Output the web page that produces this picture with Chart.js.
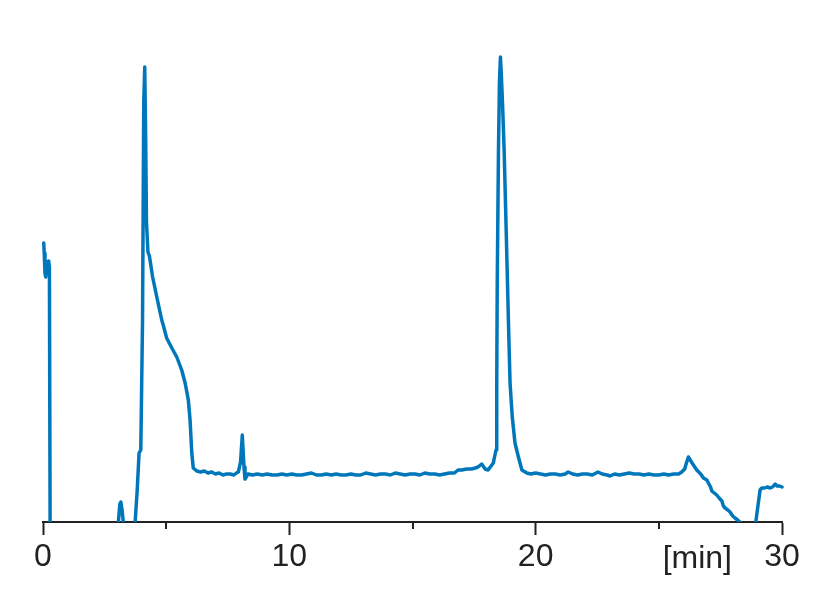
<!DOCTYPE html>
<html>
<head>
<meta charset="utf-8">
<script src="https://cdn.jsdelivr.net/npm/chart.js@4.4.1/dist/chart.umd.min.js"></script>
<style>
  html, body { margin: 0; padding: 0; background: #fff; }
  #wrap { width: 827px; height: 591px; }
</style>
</head>
<body>
<div id="wrap"><canvas id="chart" width="827" height="591"></canvas></div>
<script>
// Chromatogram trace (time in min, signal in arbitrary units)
const times = [
  0.03, 0.05, 0.08, 0.11, 0.16, 0.23, 0.26, 0.29, 0.5, 3.0,
  3.06, 3.12, 3.16, 3.21, 3.26, 3.35, 3.65, 3.74, 3.82, 3.90,
  3.97, 4.04, 4.09, 4.13, 4.17, 4.20, 4.26, 4.32, 4.45, 4.62,
  4.82, 4.88, 5.02, 5.23, 5.43, 5.63, 5.77, 5.90, 5.97, 6.04,
  6.10, 6.24, 6.4, 6.55, 6.7, 6.85, 7.0, 7.15, 7.3, 7.45,
  7.6, 7.75, 7.85, 7.93, 8.02, 8.09, 8.16, 8.20, 8.32, 8.5,
  8.7, 8.9, 9.1, 9.3, 9.5, 9.7, 9.9, 10.1, 10.3, 10.5,
  10.7, 10.9, 11.1, 11.3, 11.5, 11.7, 11.9, 12.1, 12.3, 12.5,
  12.7, 12.9, 13.1, 13.3, 13.5, 13.7, 13.9, 14.1, 14.3, 14.5,
  14.7, 14.9, 15.1, 15.3, 15.5, 15.7, 15.9, 16.1, 16.3, 16.5,
  16.7, 16.85, 17.0, 17.2, 17.4, 17.55, 17.66, 17.81, 17.95, 18.07,
  18.22, 18.28, 18.33, 18.39, 18.42, 18.44, 18.49, 18.53, 18.57, 18.61,
  18.66, 18.72, 18.81, 18.89, 18.96, 19.05, 19.16, 19.30, 19.44, 19.64,
  19.8, 20.0, 20.2, 20.4, 20.6, 20.8, 21.0, 21.2, 21.32, 21.5,
  21.7, 21.9, 22.1, 22.3, 22.53, 22.7, 22.9, 23.02, 23.2, 23.4,
  23.6, 23.8, 24.0, 24.2, 24.4, 24.6, 24.8, 25.0, 25.2, 25.4,
  25.6, 25.8, 25.93, 26.05, 26.13, 26.20, 26.35, 26.54, 26.7, 26.81,
  26.95, 27.01, 27.1, 27.15, 27.25, 27.35, 27.45, 27.56, 27.62, 27.69,
  27.8, 27.89, 28.0, 28.09, 28.2, 28.29, 28.43, 28.6, 28.79, 28.91,
  28.99, 29.11, 29.18, 29.3, 29.4, 29.52, 29.62, 29.72, 29.8, 29.9,
  30.0
];
const signal = [
  279, 269, 249, 245, 260, 261, 255, -10, -15, -15,
  0, 18, 20, 12, 0, -15, -15, 0, 30, 69,
  72, 200, 420, 455, 380, 300, 270, 266, 245, 225,
  202, 197, 184, 174, 165, 152, 139, 122, 102, 69,
  54, 51, 50, 51, 49, 50, 48, 49, 47, 48,
  48, 47, 49, 50, 60, 87, 55, 43, 48, 47,
  48, 47, 48, 47, 47, 48, 47, 48, 47, 47,
  48, 49, 47, 47, 48, 47, 48, 47, 47, 48,
  47, 47, 49, 48, 47, 48, 48, 47, 49, 48,
  47, 48, 48, 47, 49, 48, 48, 47, 48, 49,
  49, 52, 52, 53, 53, 54, 55, 58, 53, 52,
  57, 59, 65, 72, 139, 239, 372, 440, 465, 445,
  415, 372, 285, 205, 139, 105, 79, 65, 52, 49,
  48, 49, 48, 47, 48, 48, 47, 48, 50, 48,
  47, 48, 48, 47, 50, 48, 47, 46, 48, 47,
  48, 49, 48, 48, 47, 48, 47, 47, 48, 47,
  48, 48, 50, 53, 60, 65, 59, 52, 48, 44,
  42, 39, 35, 31, 29, 27, 24, 21, 16, 14,
  12, 10, 6, 4, 2, 0, -10, -15, -15, -5,
  10, 32, 34, 34, 35, 34, 35, 38, 36, 36,
  35
];
const labelledTicks = [0, 10, 20, 30];
const minorTicks = [5, 15, 25];
const axisTitle = '[min]';

const ink = '#222222';
const tickFont = { family: '"Liberation Sans", Arial, sans-serif', size: 32 };

const points = times.map((t, i) => ({ x: t, y: signal[i] }));

// short minor ticks and the "[min]" label
const extras = {
  id: 'extras',
  afterDraw(chart) {
    const { ctx, chartArea } = chart;
    const xs = chart.scales.x;
    ctx.save();
    ctx.strokeStyle = ink;
    ctx.lineWidth = 2;
    minorTicks.forEach(v => {
      const px = Math.round(xs.getPixelForValue(v));
      ctx.beginPath();
      ctx.moveTo(px, chartArea.bottom);
      ctx.lineTo(px, chartArea.bottom + 7);
      ctx.stroke();
    });
    ctx.fillStyle = ink;
    ctx.font = '32px "Liberation Sans", Arial, sans-serif';
    ctx.textAlign = 'right';
    ctx.textBaseline = 'alphabetic';
    ctx.fillText(axisTitle, chartArea.right - 50, chartArea.bottom + 46);
    ctx.restore();
  }
};

new Chart(document.getElementById('chart'), {
  type: 'line',
  data: {
    datasets: [{
      data: points,
      borderColor: '#0077BB',
      borderWidth: 3.5,
      borderJoinStyle: 'round',
      borderCapStyle: 'round',
      pointRadius: 0,
      tension: 0,
      fill: false,
      clip: { left: 3, top: 5, right: 3, bottom: 0 }
    }]
  },
  options: {
    responsive: false,
    animation: false,
    layout: { padding: { left: 43, right: 45, top: 42, bottom: 0 } },
    plugins: { legend: { display: false }, tooltip: { enabled: false } },
    scales: {
      x: {
        type: 'linear',
        min: 0,
        max: 30,
        afterFit: s => { s.height = 69; },
        border: { display: true, color: ink, width: 2 },
        grid: {
          drawOnChartArea: false,
          tickLength: 13,
          tickWidth: 2,
          tickColor: c => labelledTicks.includes(c.tick.value) ? ink : 'rgba(0,0,0,0)'
        },
        ticks: {
          stepSize: 5,
          autoSkip: false,
          maxRotation: 0,
          padding: 3,
          color: ink,
          font: tickFont,
          callback: v => labelledTicks.includes(v) ? String(v) : ''
        }
      },
      y: {
        display: false,
        min: 0,
        max: 480
      }
    }
  },
  plugins: [extras]
});
</script>
</body>
</html>
